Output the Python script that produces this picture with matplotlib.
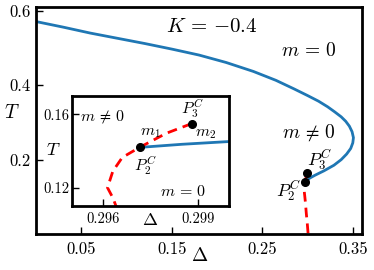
import matplotlib
matplotlib.use("Agg")
import matplotlib.pyplot as plt

plt.rcParams['mathtext.fontset'] = 'cm'
plt.rcParams['font.family'] = 'serif'
plt.rcParams['font.serif'] = ['cmr10', 'DejaVu Serif']
plt.rcParams['axes.formatter.use_mathtext'] = True

# --- данные: граница фаз (синяя), спинодаль (красная), критические точки ---
delta_blue = [0.0, 0.03, 0.06, 0.09, 0.12, 0.15, 0.18, 0.21, 0.24, 0.265, 0.285, 0.30,
              0.312, 0.322, 0.33, 0.337, 0.342, 0.346, 0.349, 0.3505,
              0.3498, 0.3475, 0.343, 0.337, 0.329, 0.318, 0.308, 0.302, 0.300, 0.2985, 0.29715]
t_blue = [0.571, 0.556, 0.540, 0.526, 0.512, 0.497, 0.481, 0.461, 0.437, 0.413, 0.390, 0.372,
          0.357, 0.342, 0.328, 0.315, 0.303, 0.290, 0.275, 0.259,
          0.245, 0.230, 0.215, 0.200, 0.185, 0.170, 0.158, 0.150, 0.1452, 0.1437, 0.142]

delta_red = [0.29881, 0.2980, 0.29715, 0.2966, 0.2963, 0.29613, 0.2963, 0.2964, 0.2967, 0.2975,
             0.2985, 0.2995, 0.3005]
t_red = [0.155, 0.1497, 0.142, 0.1365, 0.129, 0.120, 0.1145, 0.110, 0.104, 0.085, 0.055, 0.03, 0.0]

p2 = (0.29715, 0.142)
p3 = (0.29881, 0.155)

fig = plt.figure(figsize=(3.74, 2.70), dpi=100)
ax = fig.add_axes([0.096, 0.133, 0.872, 0.841])
ax.plot(delta_blue, t_blue, color='#1f77b4', lw=2)
ax.plot(delta_red, t_red, color='red', lw=2, ls=(0, (3.5, 2.2)))
ax.plot([p2[0], p3[0]], [p2[1] - 0.003, p3[1] + 0.008], 'o', color='black', ms=5.5)
ax.set_xlim(0.0, 0.36)
ax.set_ylim(0.0, 0.61)
ax.set_xticks([0.05, 0.15, 0.25, 0.35])
ax.set_xticklabels(['0.05', '0.15', '0.25', '0.35'])
ax.set_yticks([0.2, 0.4, 0.6])
ax.set_yticklabels(['0.2', '0.4', '0.6'])
ax.tick_params(axis='x', direction='in', length=5, width=1, labelsize=12, pad=5.5)
ax.tick_params(axis='y', direction='in', length=5, width=1, labelsize=12, pad=4)
for s in ax.spines.values():
    s.set_linewidth(2)
ax.set_xlabel(r'$\Delta$', fontsize=14, va='center')
ax.xaxis.set_label_coords(0.503, -0.095)
ax.set_ylabel(r'$T$', fontsize=14, rotation=0, va='center', ha='center')
ax.yaxis.set_label_coords(-0.074, 0.533)

ax.text(0.194, 0.557, r'$K\,=\,{-0.4}$', fontsize=15, ha='center', va='center')
ax.text(0.301, 0.493, r'$m\,=\,0$', fontsize=14, ha='center', va='center')
ax.text(0.301, 0.272, r'$m\,\neq\,0$', fontsize=14, ha='center', va='center')
ax.text(0.313, 0.200, r'$P_3^C$', fontsize=13, ha='center', va='center')
ax.text(0.279, 0.117, r'$P_2^C$', fontsize=13, ha='center', va='center')

# --- вставка ---
ins = fig.add_axes([0.1925, 0.237, 0.42, 0.407])
ins.plot(delta_blue, t_blue, color='#1f77b4', lw=2)
ins.plot(delta_red, t_red, color='red', lw=2, ls=(0, (3.5, 2.2)))
ins.plot([p2[0], p3[0]], [p2[1], p3[1]], 'o', color='black', ms=5.5)
ins.set_xlim(0.295, 0.300)
ins.set_ylim(0.11, 0.17)
ins.set_xticks([0.296, 0.299])
ins.set_xticklabels(['0.296', '0.299'])
ins.set_yticks([0.12, 0.16])
ins.set_yticklabels(['0.12', '0.16'])
ins.tick_params(axis='x', direction='in', length=5, width=1, labelsize=10.5, pad=4.5)
ins.tick_params(axis='y', direction='in', length=5, width=1, labelsize=10.5, pad=2)
for s in ins.spines.values():
    s.set_linewidth(2)
ins.set_xlabel(r'$\Delta$', fontsize=13, va='center')
ins.xaxis.set_label_coords(0.497, -0.127)
ins.set_ylabel(r'$T$', fontsize=13, rotation=0, va='center', ha='center')
ins.yaxis.set_label_coords(-0.121, 0.51)

ins.text(0.29527, 0.1589, r'$m\,\neq\,0$', fontsize=11.5, ha='left', va='center')
ins.text(0.2975, 0.1496, r'$m_1$', fontsize=11.5, ha='center', va='center')
ins.text(0.29926, 0.149, r'$m_2$', fontsize=11.5, ha='center', va='center')
ins.text(0.29884, 0.1633, r'$P_3^C$', fontsize=11.5, ha='center', va='center')
ins.text(0.29734, 0.132, r'$P_2^C$', fontsize=11.5, ha='center', va='center')
ins.text(0.29855, 0.1178, r'$m\,=\,0$', fontsize=11.5, ha='center', va='center')

fig.savefig('out.png', dpi=100)
